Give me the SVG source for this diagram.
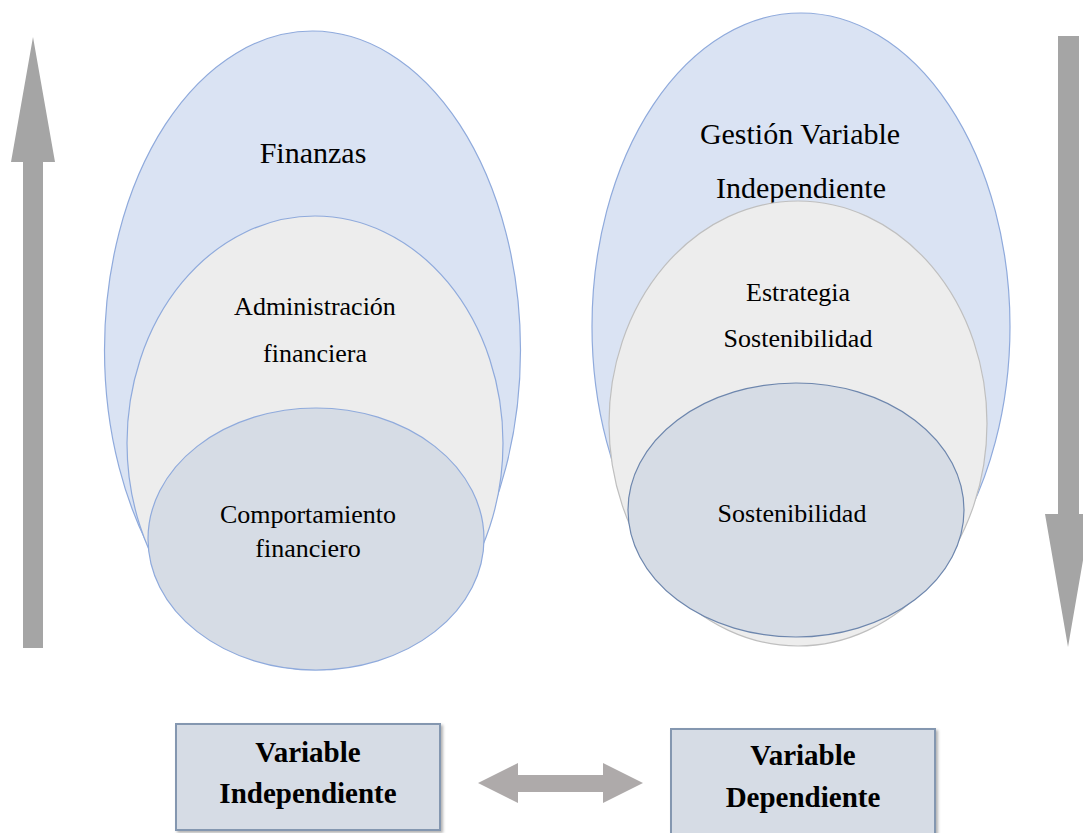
<svg xmlns="http://www.w3.org/2000/svg" width="1083" height="833" viewBox="0 0 1083 833">
<style>
.outer{fill:#dae3f3;stroke:#8faadc;stroke-width:1.2}
.midL{fill:#ededed;stroke:#8faadc;stroke-width:1.2}
.midR{fill:#ededed;stroke:#bfbfbf;stroke-width:1.2}
.innerL{fill:#d6dce5;stroke:#8faadc;stroke-width:1.2}
.innerR{fill:#d6dce5;stroke:#6d86ad;stroke-width:1.2}
text{fill:#000;text-anchor:middle}
.big{font-size:30px}
.med{font-size:26px}
.bold{font-size:29px;font-weight:bold}
.box{fill:#d6dce5;stroke:#8497b0;stroke-width:2}
.arrow{fill:#a5a5a5}
</style>
<defs>
<filter id="sh" x="-10%" y="-10%" width="130%" height="140%">
<feDropShadow dx="2" dy="2" stdDeviation="1.5" flood-color="#000" flood-opacity="0.3"/>
</filter>
</defs>
<g font-family="'Liberation Serif', 'DejaVu Serif', serif">
<g id="left-outer">
<ellipse class="outer" cx="312.5" cy="350" rx="208" ry="319"/>
<text class="big" x="313" y="163">Finanzas</text>
</g>
<g id="left-middle">
<ellipse class="midL" cx="315" cy="443" rx="188" ry="227"/>
<text class="med" x="315" y="315">Administración</text>
<text class="med" x="315" y="362">financiera</text>
</g>
<g id="left-inner">
<ellipse class="innerL" cx="316" cy="539" rx="168" ry="131"/>
<text class="med" x="308" y="523">Comportamiento</text>
<text class="med" x="308" y="557">financiero</text>
</g>
<g id="right-outer">
<ellipse class="outer" cx="801" cy="326.5" rx="209" ry="313.5"/>
<text class="big" x="800" y="144">Gestión Variable</text>
<text class="big" x="801" y="198">Independiente</text>
</g>
<g id="right-middle">
<ellipse class="midR" cx="798" cy="423.5" rx="189" ry="222.5"/>
<text class="med" x="798" y="301">Estrategia</text>
<text class="med" x="798" y="347">Sostenibilidad</text>
</g>
<g id="right-inner">
<ellipse class="innerR" cx="796" cy="510" rx="168" ry="127"/>
<text class="med" x="792" y="522">Sostenibilidad</text>
</g>
<g id="box-independiente">
<rect class="box" filter="url(#sh)" x="176" y="724" width="264" height="106"/>
<text class="bold" x="308" y="762">Variable</text>
<text class="bold" x="308" y="803">Independiente</text>
</g>
<g id="box-dependiente">
<rect class="box" filter="url(#sh)" x="671" y="729" width="264" height="110"/>
<text class="bold" x="803" y="765">Variable</text>
<text class="bold" x="803" y="807">Dependiente</text>
</g>
</g>
<g id="connectors">
<polygon class="arrow" points="23,648 23,162 11,162 33,37 55,162 43,162 43,648"/>
<polygon class="arrow" points="1058,36 1079,36 1079,514 1091,514 1068,647 1045,514 1058,514"/>
<polygon fill="#aeaaaa" points="478,783 518,763 518,775 603,775 603,763 643,783 603,803 603,792 518,792 518,803"/>
</g>
</svg>
